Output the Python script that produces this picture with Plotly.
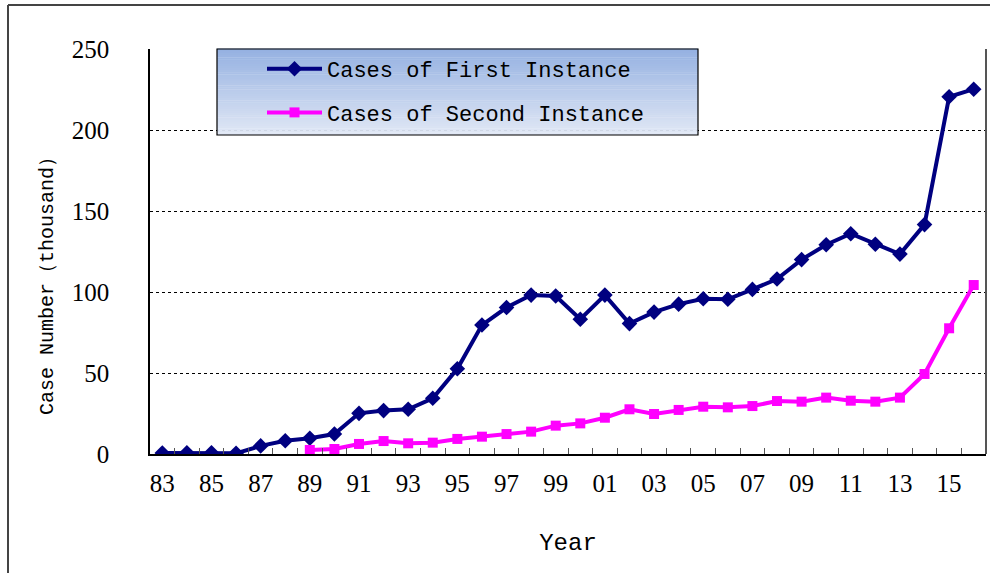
import plotly.graph_objects as go

years = list(range(1983, 2017))
year_labels = [f"{y % 100:02d}" for y in years]

first_years = years
first_cases = [0.6, 0.7, 0.8, 0.4, 5.0, 8.2, 9.7, 12.3, 25.1, 26.8, 27.6, 34.4, 52.6,
               79.6, 90.4, 98.1, 97.5, 83.2, 98.1, 80.5, 87.6, 92.5, 95.8, 95.5,
               101.6, 108.0, 120.0, 129.2, 136.0, 129.5, 123.4, 141.6, 220.5, 225.2]

second_years = list(range(1989, 2017))
second_cases = [2.5, 3.1, 6.2, 8.0, 6.6, 7.0, 9.3, 10.7, 12.3, 13.8, 17.5, 18.9,
                22.4, 27.6, 24.7, 27.2, 29.2, 28.8, 29.6, 32.7, 32.3, 34.8, 32.9,
                32.3, 34.8, 49.4, 77.6, 104.3]

y_ticks = [0, 50, 100, 150, 200, 250]

SERIF = "Liberation Serif, Times New Roman, DejaVu Serif, serif"
MONO = "Liberation Mono, Courier New, DejaVu Sans Mono, monospace"

W, H = 990, 573
L, R, T, B = 150, 4, 49, 119
pw, ph = W - L - R, H - T - B

def px_x(p):
    return (p - L) / pw

def px_y(p):
    return (H - B - p) / ph

fig = go.Figure()
fig.add_trace(go.Scatter(
    x=first_years, y=first_cases, mode="lines+markers",
    name="Cases of First Instance", legendgroup="a",
    line=dict(color="#000080", width=4),
    marker=dict(symbol="diamond", size=12, color="#000080"),
))
fig.add_trace(go.Scatter(
    x=second_years, y=second_cases, mode="lines+markers",
    name="Cases of Second Instance", legendgroup="b",
    line=dict(color="#FF00FF", width=4),
    marker=dict(symbol="square", size=10, color="#FF00FF"),
))

shapes = []
lx0, lx1 = px_x(217), px_x(698)
ly_top, ly_bot = px_y(49), px_y(135)
n = 40
c0 = (0x95, 0xB1, 0xE1)
c1 = (0xE0, 0xE7, 0xF5)
for i in range(n):
    t = i / (n - 1)
    c = tuple(int(round(c0[k] + (c1[k] - c0[k]) * t)) for k in range(3))
    ya = ly_top - (ly_top - ly_bot) * i / n
    yb = ly_top - (ly_top - ly_bot) * (i + 1) / n
    shapes.append(dict(type="rect", xref="paper", yref="paper", x0=lx0, x1=lx1,
                       y0=yb, y1=ya + 0.001, fillcolor="rgb(%d,%d,%d)" % c,
                       line=dict(width=0), layer="above"))
shapes.append(dict(type="rect", xref="paper", yref="paper", x0=lx0, x1=lx1,
                   y0=ly_bot, y1=ly_top, line=dict(color="black", width=1.2),
                   fillcolor="rgba(0,0,0,0)", layer="above"))
shapes.append(dict(type="line", xref="paper", yref="paper", x0=1, x1=1, y0=0, y1=1,
                   line=dict(color="#555555", width=2), layer="above"))
shapes.append(dict(type="line", xref="paper", yref="paper",
                   x0=px_x(8), x1=px_x(992), y0=px_y(5), y1=px_y(5),
                   line=dict(color="#444444", width=2), layer="below"))
shapes.append(dict(type="line", xref="paper", yref="paper",
                   x0=px_x(8), x1=px_x(8), y0=px_y(5), y1=px_y(575),
                   line=dict(color="#444444", width=2), layer="below"))

fig.update_layout(
    width=W, height=H,
    margin=dict(l=L, r=R, t=T, b=B),
    paper_bgcolor="white", plot_bgcolor="white",
    shapes=shapes,
    showlegend=True,
    legend=dict(
        x=px_x(262), y=px_y(48), xanchor="left", yanchor="top",
        bgcolor="rgba(0,0,0,0)", borderwidth=0,
        font=dict(family=MONO, size=22, color="black"),
        traceorder="grouped", tracegroupgap=12, itemwidth=55,
    ),
    annotations=[dict(
        text="Case Number（thousand）", textangle=-90,
        xref="paper", yref="paper", x=px_x(47), y=px_y(281),
        xanchor="center", yanchor="middle", showarrow=False,
        font=dict(family=MONO, size=20, color="black"),
    )],
    xaxis=dict(
        range=[1982.5, 2016.5],
        tickmode="array", tickvals=years[::2], ticktext=year_labels[::2],
        ticks="", showgrid=False,
        showline=True, linecolor="black", linewidth=1.5, mirror=False,
        tickfont=dict(family=SERIF, size=25, color="black"),
        ticklabelstandoff=6,
        minor=dict(tickmode="array", tickvals=[y - 0.5 for y in years[1:]],
                   ticks="inside", ticklen=6, tickcolor="#555555", tickwidth=1.2,
                   showgrid=False),
        title=dict(text="Year", font=dict(family=MONO, size=24, color="black"),
                   standoff=37),
        zeroline=False,
    ),
    yaxis=dict(
        range=[0, 250], tickvals=y_ticks,
        showgrid=True, gridcolor="black", griddash="dot", gridwidth=1,
        showline=True, linecolor="black", linewidth=1.5, mirror=False,
        ticks="", zeroline=False,
        tickfont=dict(family=SERIF, size=25, color="black"),
        ticklabelstandoff=34,
    ),
)

fig.write_html("out.html", config={"displayModeBar": False},
               post_script="document.body.style.margin='0';")
